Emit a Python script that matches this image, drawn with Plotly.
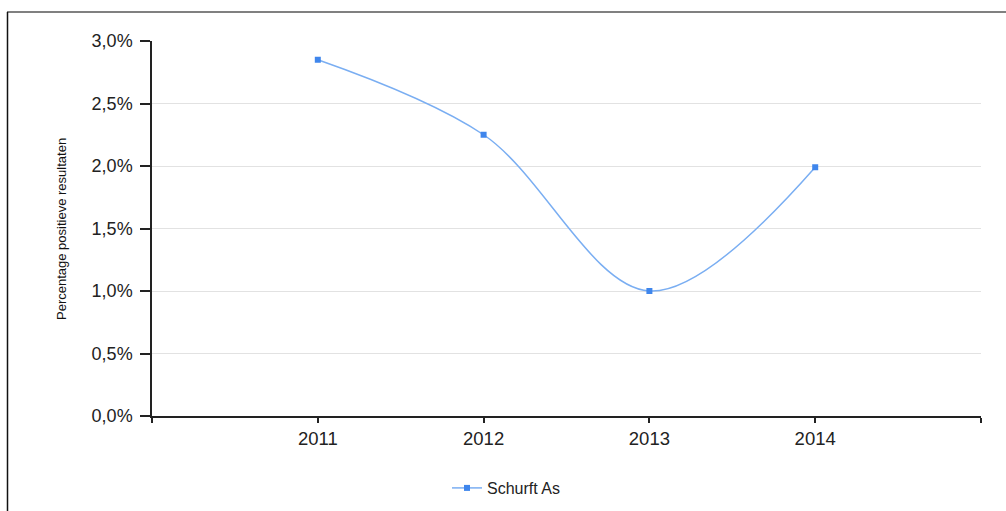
import plotly.graph_objects as go

years = [2011, 2012, 2013, 2014]
values = [2.85, 2.25, 1.0, 1.99]
series_name = "Schurft As"
y_ticks = [0.0, 0.5, 1.0, 1.5, 2.0, 2.5, 3.0]
y_ticktext = ["0,0%", "0,5%", "1,0%", "1,5%", "2,0%", "2,5%", "3,0%"]
x_ticks = [2010, 2011, 2012, 2013, 2014, 2015]
x_ticktext = ["", "2011", "2012", "2013", "2014", ""]

W, H = 1006, 511
ml, mr, mt, mb = 152, 25, 41, 95
pw, ph = W - ml - mr, H - mt - mb

def px_x(p):
    return (p - ml) / pw

def px_y(p):
    return (H - mb - p) / ph

fig = go.Figure()
fig.add_trace(go.Scatter(
    x=years, y=values, name=series_name, mode="lines+markers",
    line=dict(color="#7aaef2", width=1.5, shape="spline", smoothing=1),
    marker=dict(symbol="square", size=6, color="#3f86ec"),
))

fig.update_layout(
    width=W, height=H,
    margin=dict(l=ml, r=mr, t=mt, b=mb, autoexpand=False),
    paper_bgcolor="white", plot_bgcolor="white",
    font=dict(family="Liberation Sans, Arial, sans-serif", color="#222"),
    showlegend=True,
    legend=dict(orientation="h", x=506 / W, xref="container", xanchor="center",
                y=1 - 488 / H, yref="container", yanchor="middle",
                font=dict(size=16, color="#222"), bgcolor="rgba(0,0,0,0)"),
    xaxis=dict(range=[2010, 2015], tickmode="array", tickvals=x_ticks, ticktext=x_ticktext,
               showgrid=False, zeroline=False, showline=True, linecolor="#222", linewidth=1.5,
               ticks="outside", ticklen=5, tickcolor="#222", tickwidth=1.5,
               tickfont=dict(size=18.5, color="#222")),
    yaxis=dict(range=[0, 3], tickmode="array", tickvals=y_ticks, ticktext=y_ticktext,
               showgrid=True, gridcolor="#e2e2e2", gridwidth=1, zeroline=False,
               showline=True, linecolor="#222", linewidth=1.5,
               ticks="outside", ticklen=10, tickcolor="#222", tickwidth=1.5,
               ticklabelstandoff=4,
               tickfont=dict(size=18, color="#222")),
    annotations=[dict(text="Percentage positieve resultaten", textangle=-90,
                      xref="paper", yref="paper", x=px_x(61), y=px_y(229),
                      xanchor="center", yanchor="middle", showarrow=False,
                      font=dict(size=13, family="Liberation Sans, Arial", color="#111"))],
    shapes=[
        dict(type="line", xref="paper", yref="paper", x0=px_x(7), x1=px_x(1006), y0=px_y(12), y1=px_y(12),
             line=dict(color="#808080", width=2)),
        dict(type="line", xref="paper", yref="paper", x0=px_x(7.5), x1=px_x(7.5), y0=px_y(12), y1=px_y(511),
             line=dict(color="#111", width=1.5)),
    ],
)

fig.write_html("out.html")
